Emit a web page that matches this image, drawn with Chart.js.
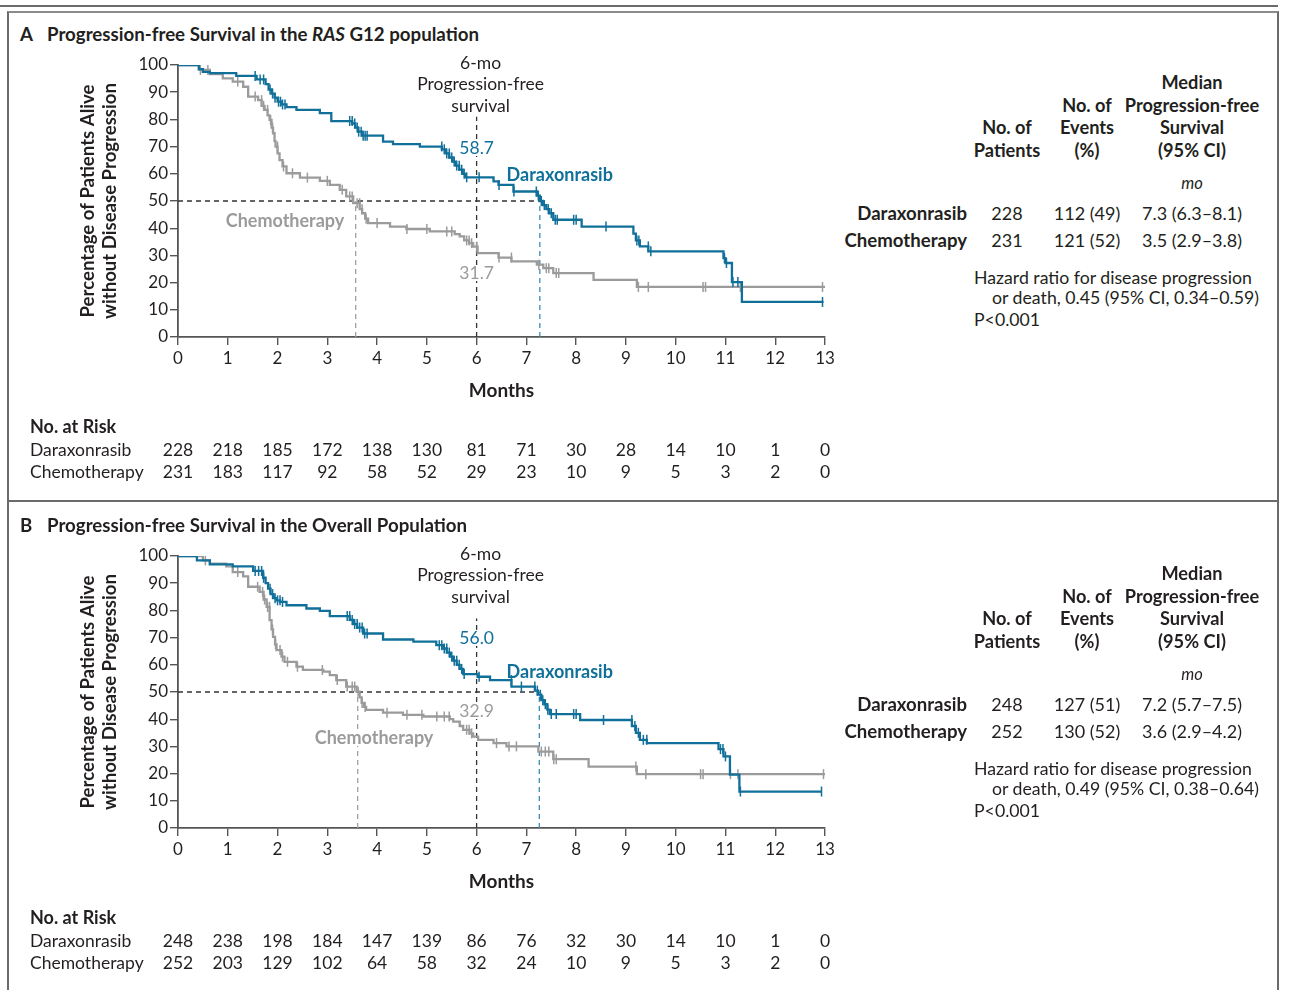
<!DOCTYPE html>
<html>
<head>
<meta charset="utf-8">
<script src="https://cdn.jsdelivr.net/npm/chart.js@4.4.1/dist/chart.umd.min.js"></script>
<style>
  body { margin: 0; width: 1290px; height: 990px; background: #fff; position: relative; overflow: hidden; font-family: Lato, "Open Sans", sans-serif; color: #231f20; }
  .abs { position: absolute; white-space: nowrap; }
  .panel { position: absolute; left: 0; width: 1290px; height: 491px; }
  .title { font-weight: bold; font-size: 18.7px; line-height: 22px; }
  .hd { font-weight: bold; font-size: 18.2px; line-height: 22px; text-align: center; width: 220px; }
  .cell { font-size: 18px; line-height: 22px; text-align: center; width: 220px; }
  .lbl { font-weight: bold; font-size: 18.6px; line-height: 22px; text-align: right; width: 220px; }
  .note { font-size: 17.7px; line-height: 22px; }
  canvas { position: absolute; left: 10px; top: 45px; }
</style>
</head>
<body>
<div class="abs" style="left:0;top:5px;width:1278px;height:2px;background:#6b6b6b"></div>
<div class="abs" style="left:7px;top:11px;width:1268px;height:990px;border-left:2px solid #6b6b6b;border-right:2px solid #6b6b6b;border-top:2px solid #8c8c8c"></div>
<div class="abs" style="left:7px;top:500px;width:1270px;height:2px;background:#6b6b6b"></div>

<div class="panel" id="panelA" style="top:0px"></div>
<div class="panel" id="panelB" style="top:491px"></div>

<script>
'use strict';

const BLUE = '#10709a';
const GRAY = '#9b9b9b';
const INK = '#231f20';

// Month ticks and at-risk rows
const months = [0, 1, 2, 3, 4, 5, 6, 7, 8, 9, 10, 11, 12, 13];
const riskDaraA = [228, 218, 185, 172, 138, 130, 81, 71, 30, 28, 14, 10, 1, 0];
const riskChemoA = [231, 183, 117, 92, 58, 52, 29, 23, 10, 9, 5, 3, 2, 0];
const riskDaraB = [248, 238, 198, 184, 147, 139, 86, 76, 32, 30, 14, 10, 1, 0];
const riskChemoB = [252, 203, 129, 102, 64, 58, 32, 24, 10, 9, 5, 3, 2, 0];

// Kaplan-Meier steps [month, % without progression]
const daraA = [[0,100],[0.42,98.5],[0.5,97.5],[0.64,97],[1.17,96],[1.58,94.7],[1.76,93],[1.82,91],[1.88,89.5],[1.94,88],[2.0,86.5],[2.08,85.5],[2.18,84.5],[2.38,83.5],[2.85,82.3],[3.08,79.4],[3.5,78.5],[3.56,77],[3.62,75.5],[3.7,74],[4.12,71.8],[4.32,70.9],[4.86,70],[5.3,69],[5.38,67.5],[5.45,66],[5.52,64.5],[5.58,63],[5.65,61.5],[5.72,60],[5.78,58.7],[6.34,57.2],[6.44,55.9],[6.74,53.5],[7.21,52],[7.27,50],[7.33,48.5],[7.4,47],[7.46,45.5],[7.54,43.1],[8.11,40.6],[9.15,38],[9.2,35.5],[9.28,33.3],[9.45,31.5],[10.96,29],[11.0,27.2],[11.13,20.2],[11.33,12.9],[12.97,12.9]];
const chemoA = [[0,100],[0.42,98.2],[0.64,96.7],[0.9,95.1],[1.1,93.9],[1.31,92],[1.41,88.4],[1.61,87.1],[1.68,85],[1.74,83.5],[1.8,81.5],[1.84,79.8],[1.88,77],[1.91,74.9],[1.94,72],[1.96,70],[2.0,67.5],[2.04,65],[2.1,62.7],[2.18,60.2],[2.45,58.6],[2.85,57.4],[3.05,55.9],[3.25,54.1],[3.38,51.7],[3.52,49.2],[3.65,47],[3.7,45.5],[3.76,43.5],[3.82,41.9],[4.26,40.6],[4.59,39.7],[5.06,38.8],[5.56,37.8],[5.66,37],[5.75,35.5],[5.85,34.5],[5.93,33.2],[6.02,30.8],[6.44,29.2],[6.7,27.8],[7.21,26.6],[7.34,25.3],[7.54,23.5],[8.35,21],[9.22,18.4],[13,18.4]];
const daraB = [[0,100],[0.38,98.4],[0.64,96.9],[1.1,96.2],[1.51,94.5],[1.71,92],[1.76,90],[1.81,88],[1.86,86],[1.92,84.5],[1.98,83.7],[2.05,83.1],[2.18,81.9],[2.58,80.7],[2.85,79.8],[3.05,77.9],[3.45,76.5],[3.52,75],[3.6,73.7],[3.72,71.5],[4.12,69.3],[4.73,68.5],[5.19,67.2],[5.33,66],[5.4,64.5],[5.47,63],[5.53,61.5],[5.6,60],[5.66,58.5],[5.73,56.6],[6.02,55.6],[6.27,54.4],[6.7,52],[7.17,50.5],[7.23,49],[7.3,47],[7.36,45.5],[7.42,43.5],[7.47,41.9],[8.08,39.7],[9.12,37.5],[9.2,35],[9.28,32.4],[9.42,31.2],[10.86,29],[10.96,26.3],[11.09,19.6],[11.28,13.4],[12.94,13.4]];
const chemoB = [[0,100],[0.5,98.4],[0.64,97.2],[0.97,96.2],[1.1,94.1],[1.31,92.5],[1.41,88.7],[1.64,86.8],[1.72,84],[1.78,81.3],[1.84,76.4],[1.88,73],[1.91,70.3],[1.95,67.5],[1.98,65.4],[2.08,63],[2.14,61.1],[2.38,59.3],[2.51,58.1],[2.92,57.5],[3.05,56.2],[3.18,54.4],[3.38,52],[3.59,50.1],[3.65,48],[3.69,46],[3.74,44.5],[3.78,43.4],[4.12,42.4],[4.52,41.6],[4.93,41],[5.46,40],[5.53,39.1],[5.66,37.5],[5.73,36.1],[5.86,34.8],[5.93,33.6],[6.03,32.4],[6.34,31.2],[6.6,30],[7.24,28.1],[7.54,25.3],[8.25,22.6],[9.22,19.8],[13,19.8]];

// Censoring times (months)
const censorDaraA = [1.55,1.65,1.72,1.85,1.9,1.95,2.02,2.06,2.1,2.15,3.45,3.5,3.55,3.6,3.63,3.68,3.72,3.76,3.8,5.3,5.35,5.4,5.45,5.5,5.55,5.6,5.65,5.7,5.75,5.8,6.05,6.45,6.75,7.2,7.24,7.3,7.36,7.44,7.5,7.58,7.62,7.95,8.0,8.6,9.22,9.26,9.45,9.5,10.98,11.02,11.15,11.25,12.95];
const censorChemoA = [0.45,0.6,1.2,1.55,1.68,1.72,1.8,1.86,1.9,2.0,2.12,2.3,2.6,3.0,3.3,3.45,3.5,3.6,3.65,3.7,3.78,4.0,4.6,5.0,5.4,5.5,5.8,5.85,5.9,6.0,6.45,6.7,7.25,7.4,7.45,7.6,7.65,9.25,9.45,10.55,10.6,11.3,12.95];
const censorDaraB = [1.55,1.62,1.68,1.72,1.85,1.9,1.95,2.0,2.05,2.1,3.4,3.45,3.5,3.55,3.6,3.65,3.7,3.75,3.8,5.25,5.3,5.35,5.4,5.45,5.5,5.55,5.6,5.65,5.7,5.75,6.05,6.7,6.9,7.17,7.22,7.28,7.33,7.38,7.43,7.5,7.6,7.95,8.0,8.55,9.12,9.18,9.25,9.35,9.42,10.9,10.95,11.0,11.3,12.93];
const censorChemoB = [0.5,0.55,1.2,1.6,1.7,1.74,1.8,1.84,1.9,1.96,2.05,2.1,2.2,2.4,2.9,3.2,3.4,3.5,3.55,3.62,3.7,3.76,4.2,4.6,4.9,5.2,5.35,5.45,5.8,5.85,5.9,6.4,6.65,6.8,7.3,7.38,7.45,7.55,7.6,9.2,9.4,10.5,10.55,11.1,11.25,12.97];

// Medians and 6-month values
const mediansA = [7.27, 3.57];
const mediansB = [7.26, 3.61];
const sixMonthA = ['58.7', '31.7'];
const sixMonthB = ['56.0', '32.9'];

// Summary tables
const patientsA = [228, 231];
const eventsA = ['112 (49)', '121 (52)'];
const medianPfsA = ['7.3 (6.3–8.1)', '3.5 (2.9–3.8)'];
const hazardA = 'or death, 0.45 (95% CI, 0.34–0.59)';
const patientsB = [248, 252];
const eventsB = ['127 (51)', '130 (52)'];
const medianPfsB = ['7.2 (5.7–7.5)', '3.6 (2.9–4.2)'];
const hazardB = 'or death, 0.49 (95% CI, 0.38–0.64)';

const groups = ['Daraxonrasib', 'Chemotherapy'];

function survAt(curve, t) {
    let s = 100;
    for (const [ti, si] of curve) {
        if (ti < t) s = si; else break;
    }
    return s;
}

function div(parent, cls, style, html) {
    const d = document.createElement('div');
    d.className = 'abs ' + cls;
    d.style.cssText = style;
    d.innerHTML = html;
    parent.appendChild(d);
    return d;
}

function buildTable(panel, letter, title, patients, events, medians, hazard) {
    div(panel, 'title', 'left:20px;top:23px', letter);
    div(panel, 'title', 'left:47px;top:23px', title);

    const c1 = 1007, c2 = 1087, c3 = 1192;
    const lines = (cx, arr, firstY) => arr.forEach((t, i) => div(panel, 'hd', `left:${cx - 110}px;top:${firstY + i * 22.7 - 11}px`, t));
    lines(c1, ['No. of', 'Patients'], 127);
    lines(c2, ['No. of', 'Events', '(%)'], 104.5);
    lines(c3, ['Median', 'Progression-free', 'Survival', '(95% CI)'], 82);
    div(panel, 'cell', `left:${c3 - 110}px;top:${183 - 11}px;font-style:italic;font-size:16.5px`, 'mo');

    [213, 240].forEach((y, i) => {
        div(panel, 'lbl', `left:${967 - 220}px;top:${y - 11}px`, groups[i]);
        div(panel, 'cell', `left:${c1 - 110}px;top:${y - 11}px`, patients[i]);
        div(panel, 'cell', `left:${c2 - 110}px;top:${y - 11}px`, events[i]);
        div(panel, 'cell', `left:${c3 - 110}px;top:${y - 11}px`, medians[i]);
    });
    div(panel, 'note', 'left:974px;top:267px', 'Hazard ratio for disease progression');
    div(panel, 'note', 'left:992px;top:287px', hazard);
    div(panel, 'note', 'left:974px;top:309px', 'P&lt;0.001');
}

function makeChart(panel, cfg) {
    const canvas = document.createElement('canvas');
    canvas.width = 830;
    canvas.height = 450;
    canvas.style.width = '830px';
    canvas.style.height = '450px';
    panel.appendChild(canvas);

    const xy = pts => pts.map(([x, y]) => ({ x: x, y: y }));
    const censor = (curve, times) => times.map(t => ({ x: t, y: survAt(curve, t) }));
    const dash = (pts, color) => ({
        data: xy(pts), borderColor: color, borderWidth: 1.3, borderDash: [5, 4],
        pointRadius: 0, fill: false
    });
    const mark = (data, color) => ({
        type: 'scatter', data: data, pointStyle: 'line', rotation: 90, radius: 5,
        borderColor: color, borderWidth: 1.5, backgroundColor: color
    });

    // text drawn over a white patch so the dashed guides break around it
    function knockText(ctx, text, px, py, color) {
        const w = ctx.measureText(text).width;
        ctx.fillStyle = '#fff';
        ctx.fillRect(px - w / 2 - 2, py - 8, w + 4, 16);
        ctx.fillStyle = color;
        ctx.fillText(text, px, py);
    }

    const textPlugin = {
        id: 'kmText',
        afterDraw(chart) {
            const ctx = chart.ctx;
            const x = chart.scales.x, y = chart.scales.y;
            const area = chart.chartArea;
            ctx.save();
            ctx.fillStyle = INK;
            ctx.textBaseline = 'middle';

            // y title
            ctx.save();
            ctx.translate(78, (area.top + area.bottom) / 2);
            ctx.rotate(-Math.PI / 2);
            ctx.textAlign = 'center';
            ctx.font = 'bold 18.6px Lato';
            ctx.fillText('Percentage of Patients Alive', 0, 0);
            ctx.fillText('without Disease Progression', 0, 22);
            ctx.restore();

            // x title
            ctx.textAlign = 'center';
            ctx.font = 'bold 19px Lato';
            ctx.fillText('Months', (area.left + area.right) / 2, 346);

            // at-risk table
            ctx.textAlign = 'left';
            ctx.font = 'bold 18px Lato';
            ctx.fillText('No. at Risk', 20, 382);
            ctx.font = '17.5px Lato';
            ctx.fillText(groups[0], 20, 405);
            ctx.fillText(groups[1], 20, 427);
            ctx.textAlign = 'center';
            months.forEach((m, i) => {
                const px = x.getPixelForValue(m);
                ctx.fillText(String(cfg.riskDara[i]), px, 405);
                ctx.fillText(String(cfg.riskChemo[i]), px, 427);
            });

            // curve annotations
            ctx.font = '17.5px Lato';
            ctx.fillText('6-mo', x.getPixelForValue(6.08), y.getPixelForValue(100.7));
            ctx.fillText('Progression-free', x.getPixelForValue(6.08), y.getPixelForValue(93));
            ctx.fillText('survival', x.getPixelForValue(6.08), y.getPixelForValue(84.9));
            knockText(ctx, cfg.six[0], x.getPixelForValue(6), y.getPixelForValue(cfg.sixY[0]), BLUE);
            knockText(ctx, cfg.six[1], x.getPixelForValue(6), y.getPixelForValue(cfg.sixY[1]), GRAY);
            ctx.font = 'bold 18px Lato';
            ctx.fillStyle = BLUE;
            ctx.fillText(groups[0], x.getPixelForValue(7.67), y.getPixelForValue(cfg.daraLabelY));
            knockText(ctx, groups[1], x.getPixelForValue(cfg.chemoLabel[0]), y.getPixelForValue(cfg.chemoLabel[1]), GRAY);
            ctx.restore();
        }
    };

    const tickFont = { family: 'Lato', size: 17 };
    new Chart(canvas, {
        type: 'line',
        data: {
            datasets: [
                mark(censor(cfg.dara, cfg.censorDara), BLUE),
                { data: xy(cfg.dara), borderColor: BLUE, borderWidth: 2.3, stepped: true, pointRadius: 0, fill: false },
                mark(censor(cfg.chemo, cfg.censorChemo), GRAY),
                { data: xy(cfg.chemo), borderColor: GRAY, borderWidth: 2.3, stepped: true, pointRadius: 0, fill: false },
                dash([[0, 50], [cfg.medians[0], 50]], '#333'),
                dash([[6, 0], [6, cfg.sixTop]], '#333'),
                dash([[cfg.medians[1], 0], [cfg.medians[1], 50]], '#a0a0a0'),
                dash([[cfg.medians[0], 0], [cfg.medians[0], 50]], '#3d8db5')
            ]
        },
        options: {
            responsive: false,
            animation: false,
            layout: { padding: { left: 0, top: 20, right: 15, bottom: 0 } },
            plugins: { legend: { display: false }, tooltip: { enabled: false } },
            scales: {
                x: {
                    type: 'linear', min: 0, max: 13,
                    ticks: { stepSize: 1, font: tickFont, color: INK, padding: 3, maxRotation: 0, autoSkip: false },
                    grid: { drawOnChartArea: false, tickLength: 8, color: '#555', lineWidth: 1.4 },
                    border: { color: '#555', width: 1.8 },
                    afterFit: s => { s.height = 158; }
                },
                y: {
                    min: 0, max: 100,
                    ticks: { stepSize: 10, font: tickFont, color: INK, padding: 2 },
                    grid: { drawOnChartArea: false, tickLength: 8, color: '#555', lineWidth: 1.4 },
                    border: { color: '#555', width: 1.8 },
                    afterFit: s => { s.width = 168; }
                }
            }
        },
        plugins: [textPlugin]
    });
}

const panelA = document.getElementById('panelA');
const panelB = document.getElementById('panelB');

buildTable(panelA, 'A', 'Progression-free Survival in the <i>RAS</i> G12 population', patientsA, eventsA, medianPfsA, hazardA);
buildTable(panelB, 'B', 'Progression-free Survival in the Overall Population', patientsB, eventsB, medianPfsB, hazardB);

makeChart(panelA, {
    dara: daraA, chemo: chemoA, censorDara: censorDaraA, censorChemo: censorChemoA,
    riskDara: riskDaraA, riskChemo: riskChemoA, medians: mediansA, sixTop: 81,
    six: sixMonthA, sixY: [69.5, 23.5], daraLabelY: 59.6, chemoLabel: [2.15, 42.6]
});
makeChart(panelB, {
    dara: daraB, chemo: chemoB, censorDara: censorDaraB, censorChemo: censorChemoB,
    riskDara: riskDaraB, riskChemo: riskChemoB, medians: mediansB, sixTop: 77,
    six: sixMonthB, sixY: [69.9, 43], daraLabelY: 57.4, chemoLabel: [3.94, 33.1]
});
</script>
</body>
</html>
